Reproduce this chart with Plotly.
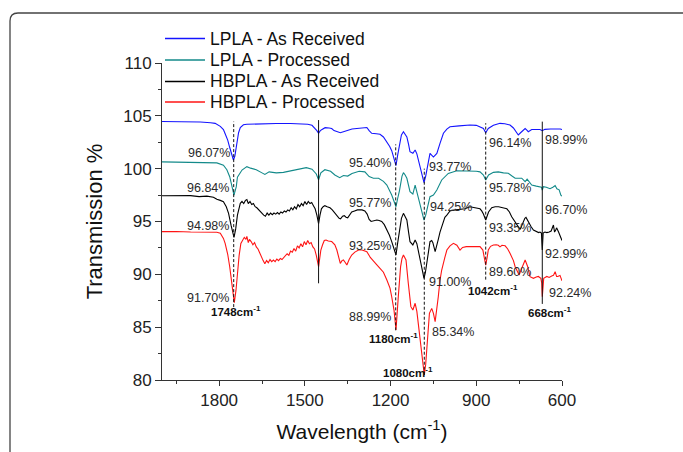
import plotly.graph_objects as go

# ---------------- data ----------------
blue_wn = [2000, 1900, 1866, 1830, 1814, 1796, 1785, 1779, 1770, 1763, 1755, 1750, 1745, 1738, 1732, 1726, 1715, 1703,
           1650, 1600, 1550, 1516, 1490, 1475, 1465, 1458, 1452, 1446, 1440, 1429, 1415, 1406, 1398, 1390, 1376, 1365,
           1353, 1335, 1318, 1295, 1283, 1275, 1266, 1250, 1237, 1225, 1213, 1203, 1196, 1190, 1181, 1175, 1169, 1162,
           1155, 1149, 1143, 1137, 1132, 1122, 1114, 1108, 1103, 1092, 1083, 1077, 1071, 1062, 1050, 1038, 1027, 1015,
           1003, 992, 960, 922, 900, 885, 875, 867, 858, 840, 817, 800, 782, 770, 760, 753, 745, 735, 729, 723, 718,
           706, 690, 677, 669, 660, 640, 620, 606, 600]
blue_T = [104.46, 104.44, 104.42, 104.35, 104.29, 104.0, 103.7, 103.3, 102.7, 102.0, 101.2, 100.82, 101.2, 102.3, 103.4,
          103.9, 104.15, 104.2, 104.25, 104.27, 104.27, 104.25, 104.2, 104.1, 103.85, 103.6, 103.35, 103.6, 103.7,
          103.88, 103.85, 103.8, 103.6, 103.5, 103.4, 103.5, 103.6, 103.75, 103.8, 103.85, 103.9, 103.6, 103.35, 103.3,
          103.25, 103.0, 102.55, 102.1, 101.7, 101.1, 100.3, 101.3, 102.4, 103.2, 103.5, 103.3, 103.0, 102.3, 101.6,
          101.45, 101.77, 101.4, 100.8, 99.7, 98.67, 99.3, 100.19, 101.45, 101.1, 101.45, 102.4, 103.35, 103.75,
          103.97, 104.05, 104.13, 104.1, 103.95, 103.8, 103.4, 103.8, 104.1, 104.29, 104.25, 104.13, 103.85, 103.45,
          103.19, 103.4, 103.7, 103.8, 103.65, 103.5, 103.7, 103.72, 103.7, 103.6, 103.72, 103.75, 103.78, 103.75, 103.7]

teal_wn = [2000, 1900, 1808, 1785, 1773, 1763, 1755, 1748, 1740, 1736, 1720, 1703, 1690, 1670, 1650, 1640, 1625, 1600,
           1575, 1550, 1520, 1495, 1475, 1460, 1452, 1444, 1430, 1410, 1395, 1378, 1365, 1350, 1335, 1310, 1290, 1275,
           1260, 1242, 1225, 1213, 1196, 1188, 1181, 1175, 1169, 1160, 1155, 1149, 1143, 1132, 1122, 1114, 1103, 1092,
           1083, 1077, 1071, 1062, 1050, 1038, 1021, 998, 968, 933, 900, 887, 875, 867, 857, 840, 823, 805, 788, 775,
           764, 741, 735, 729, 722, 715, 706, 690, 677, 672, 669, 665, 655, 642, 632, 624, 618, 610, 604, 600]
teal_T = [100.64, 100.62, 100.55, 100.33, 99.9, 99.24, 98.3, 97.5, 98.3, 99.2, 99.87, 100.19, 100.05, 99.9, 99.6, 99.45,
          99.7, 99.6, 99.65, 99.8, 99.95, 100.1, 99.95, 99.5, 98.95, 99.6, 99.9, 99.75, 99.4, 99.15, 99.35, 99.3, 99.55,
          99.75, 99.7, 99.25, 99.1, 99.1, 98.8, 98.45, 97.5, 96.9, 96.4, 97.2, 97.9, 99.3, 99.62, 99.4, 99.09, 97.82,
          97.6, 98.45, 97.35, 96.2, 95.14, 95.6, 96.4, 97.35, 97.5, 97.98, 98.93, 99.55, 99.8, 99.8, 99.75, 99.7, 99.4,
          98.93, 99.4, 99.65, 99.7, 99.6, 99.56, 99.3, 99.1, 99.1, 98.9, 98.77, 99.0, 98.8, 98.45, 98.35, 98.3, 98.25,
          97.98, 98.3, 98.25, 98.1, 98.25, 98.4, 98.1, 98.0, 97.5, 97.4]

black_wn = [2000, 1950, 1900, 1870, 1843, 1820, 1808, 1796, 1785, 1775, 1767, 1758, 1748, 1742, 1736, 1726, 1720, 1714,
            1708, 1703, 1698, 1692, 1686, 1680, 1674, 1668, 1662, 1656, 1650, 1644, 1638, 1632, 1626, 1620, 1614, 1608,
            1602, 1596, 1590, 1584, 1578, 1572, 1566, 1560, 1554, 1548, 1542, 1536, 1530, 1524, 1518, 1512, 1506, 1500,
            1494, 1488, 1482, 1476, 1470, 1464, 1458, 1452, 1447, 1442, 1436, 1430, 1422, 1412, 1404, 1396, 1388, 1380,
            1375, 1368, 1362, 1356, 1350, 1344, 1336, 1326, 1316, 1300, 1290, 1282, 1275, 1268, 1258, 1248, 1240, 1231,
            1222, 1213, 1204, 1196, 1188, 1181, 1175, 1169, 1162, 1155, 1149, 1143, 1137, 1132, 1122, 1114, 1108, 1103,
            1097, 1091, 1083, 1078, 1073, 1067, 1062, 1056, 1052, 1044, 1038, 1033, 1027, 1021, 1010, 1003, 992, 986,
            970, 957, 940, 922, 910, 898, 887, 881, 875, 867, 862, 857, 846, 834, 822, 810, 800, 793, 784, 776, 766,
            758, 752, 747, 741, 735, 730, 726, 721, 717, 708, 700, 690, 682, 677, 672, 669, 666, 660, 653, 645, 638,
            630, 626, 622, 619, 612, 607, 601, 600]
black_T = [97.44, 97.42, 97.45, 97.35, 97.4, 97.3, 97.1, 97.0, 96.88, 96.4, 95.77, 94.6, 93.5, 94.3, 95.6, 96.72, 96.9,
           96.7, 97.0, 97.07, 96.7, 96.9, 96.6, 96.7, 96.4, 96.3, 96.1, 95.9, 95.8, 95.6, 95.5, 95.8, 95.6, 95.8, 95.65,
           95.8, 95.7, 95.85, 95.7, 95.9, 95.8, 96.0, 95.9, 96.1, 96.0, 96.3, 96.1, 96.4, 96.2, 96.6, 96.4, 96.7, 96.5,
           96.9, 96.6, 96.9, 96.7, 96.8, 96.5, 96.2, 95.6, 94.8, 95.6, 96.2, 96.4, 96.5, 96.4, 96.3, 96.1, 95.8, 95.5,
           95.3, 95.25, 95.5, 95.55, 95.4, 95.35, 95.6, 95.9, 96.0, 96.1, 96.1, 96.0, 95.7, 95.2, 95.0, 95.05, 95.14,
           95.1, 95.0, 94.7, 94.2, 93.7, 93.09, 92.4, 91.83, 93.0, 94.2, 95.3, 95.77, 95.5, 95.14, 94.0, 93.09, 92.78,
           93.25, 92.9, 92.3, 91.5, 90.72, 89.62, 90.2, 91.04, 92.3, 93.09, 93.2, 93.0, 92.14, 92.7, 93.3, 94.0, 94.5,
           95.4, 95.6, 96.0, 96.05, 96.1, 96.09, 96.2, 96.4, 96.35, 96.3, 96.2, 96.0, 95.7, 95.14, 95.5, 95.9, 96.3,
           96.4, 96.4, 96.35, 96.25, 96.2, 95.9, 95.45, 95.0, 94.67, 94.4, 94.25, 94.6, 95.0, 95.3, 95.39, 95.1, 94.9,
           94.5, 94.2, 94.05, 93.95, 94.0, 93.9, 92.3, 93.9, 94.0, 93.95, 94.0, 94.1, 94.67, 94.0, 94.2, 94.4, 94.0,
           93.72, 93.25, 93.2]

red_wn = [2000, 1950, 1900, 1850, 1808, 1796, 1785, 1779, 1770, 1763, 1755, 1747, 1741, 1736, 1730, 1724, 1718, 1712,
          1706, 1703, 1698, 1694, 1688, 1682, 1676, 1670, 1664, 1658, 1652, 1646, 1640, 1634, 1628, 1622, 1616, 1610,
          1604, 1598, 1592, 1586, 1580, 1574, 1568, 1562, 1556, 1550, 1544, 1538, 1532, 1526, 1520, 1514, 1508, 1502,
          1496, 1490, 1484, 1478, 1472, 1466, 1460, 1455, 1452, 1448, 1444, 1438, 1432, 1426, 1418, 1406, 1395, 1388,
          1380, 1376, 1370, 1365, 1358, 1353, 1345, 1336, 1325, 1312, 1300, 1283, 1271, 1260, 1248, 1237, 1225, 1213,
          1202, 1196, 1188, 1181, 1177, 1173, 1165, 1160, 1155, 1146, 1138, 1129, 1122, 1114, 1108, 1103, 1097, 1091,
          1082, 1077, 1073, 1064, 1056, 1050, 1044, 1038, 1033, 1027, 1021, 1010, 1003, 992, 980, 968, 957, 948, 935,
          910, 887, 877, 872, 867, 862, 858, 850, 840, 830, 823, 817, 810, 799, 790, 782, 770, 764, 756, 750, 745, 741,
          735, 729, 724, 720, 712, 700, 690, 683, 674, 671, 669, 667, 664, 653, 645, 636, 630, 624, 619, 615, 607, 601,
          600]
red_T = [94.04, 94.06, 94.0, 94.02, 93.98, 93.88, 93.4, 92.93, 91.9, 90.72, 88.9, 87.32, 88.5, 90.2, 91.8, 92.93, 93.2,
         93.5, 93.3, 93.6, 93.0, 93.3, 93.1, 92.8, 93.0, 92.6, 92.4, 92.0, 91.7, 91.3, 91.0, 91.3, 91.1, 91.4, 91.2,
         91.35, 91.2, 91.45, 91.3, 91.5, 91.4, 91.6, 91.7, 91.95, 91.8, 92.2, 92.1, 92.45, 92.2, 92.7, 92.5, 92.9, 92.6,
         93.1, 92.8, 93.2, 92.9, 93.0, 92.6, 92.4, 91.8, 91.0, 90.72, 91.5, 92.3, 92.8, 93.2, 93.25, 93.15, 93.1, 92.8,
         92.3, 91.5, 91.04, 91.3, 91.36, 91.1, 90.88, 91.4, 91.83, 92.1, 92.3, 92.3, 92.15, 91.6, 91.3, 90.9, 90.57,
         90.2, 89.46, 88.7, 87.88, 86.62, 84.73, 86.0, 87.88, 90.7, 91.5, 91.83, 91.36, 89.15, 86.94, 86.62, 87.26, 86.5,
         85.36, 84.0, 82.52, 80.47, 81.5, 82.84, 86.31, 86.78, 86.3, 85.52, 86.6, 87.88, 89.46, 90.41, 91.6, 92.3, 92.7,
         92.93, 92.75, 92.3, 92.55, 92.62, 92.62, 92.62, 92.3, 91.6, 90.88, 91.6, 92.3, 92.65, 92.78, 92.8, 92.75, 92.6,
         92.75, 92.7, 92.4, 91.99, 91.3, 90.72, 90.2, 89.94, 90.3, 90.6, 91.1, 91.36, 91.0, 90.72, 89.78, 89.62, 89.75,
         89.8, 89.62, 89.2, 87.88, 89.3, 89.62, 89.8, 89.7, 89.85, 89.9, 90.25, 89.8, 89.8, 89.9, 89.46, 89.4]

series_names = ["LPLA - As Received", "LPLA - Processed", "HBPLA - As Received", "HBPLA - Processed"]

# peak marker lines
peak_wn = [1749, 1452, 1182, 1082, 867, 669]
peak_top = [104.45, 104.6, 102.3, 100.0, 104.3, 104.45]
peak_bottom = [86.9, 89.15, 84.7, 80.5, 89.5, 87.2]
peak_dash = ["3px,2px", "solid", "3px,2px", "3px,2px", "3px,2px", "solid"]

# percent labels
pct_text = ["96.07%", "96.84%", "94.98%", "91.70%", "95.40%", "95.77%", "93.25%", "88.99%",
            "93.77%", "94.25%", "91.00%", "85.34%", "96.14%", "95.78%", "93.35%", "89.60%",
            "98.99%", "96.70%", "92.99%", "92.24%"]
pct_wn = [1756, 1759, 1759, 1759, 1190, 1190, 1190, 1190,
          1073, 1068, 1073, 1062, 864, 864, 864, 864,
          665, 665, 665, 654]
pct_T = [101.45, 98.14, 94.57, 87.79, 100.56, 96.72, 92.71, 85.99,
         100.19, 96.33, 89.3, 84.57, 102.4, 98.14, 94.36, 90.25,
         102.71, 96.09, 91.92, 88.26]
pct_side = ["right"] * 8 + ["left"] * 12

# band labels
band_text = ["1748", "1180", "1080", "1042", "668"]
band_wn = [1741, 1191, 1139, 843, 644]
band_T = [86.55, 83.94, 80.75, 88.52, 86.47]

# ---------------- figure ----------------
FONT = "Liberation Sans, Arial, sans-serif"
colors = ["#1414ff", "#138a8a", "#000000", "#ff1414"]
xs = [blue_wn, teal_wn, black_wn, red_wn]
ys = [blue_T, teal_T, black_T, red_T]

L, T_, W, H = 162, 63, 400, 317
def px(xp):
    return (xp - L) / W
def py(yp):
    return (T_ + H - yp) / H

fig = go.Figure()
for name, x, y, c in zip(series_names, xs, ys, colors):
    fig.add_trace(go.Scatter(x=x, y=y, mode="lines", name=name, showlegend=False,
                             line=dict(color=c, width=1.1)))

# legend drawn as line samples + labels (to match the original spacing)
legend_rows = [38.5, 60, 81.5, 102]
for name, c, row in zip(series_names, colors, legend_rows):
    fig.add_shape(type="line", xref="paper", yref="paper",
                  x0=px(165), x1=px(205), y0=py(row), y1=py(row),
                  line=dict(color=c, width=1.3))
    fig.add_annotation(x=px(208), y=py(row), xref="paper", yref="paper", text=name,
                       showarrow=False, xanchor="left", yanchor="middle",
                       font=dict(family=FONT, size=17.5, color="#111111"))

for wn, top, bot, d in zip(peak_wn, peak_top, peak_bottom, peak_dash):
    fig.add_shape(type="line", xref="x", yref="y", x0=wn, x1=wn, y0=bot, y1=top,
                  line=dict(color="#111111", width=1, dash=d), layer="above")

for t, wn, T, side in zip(pct_text, pct_wn, pct_T, pct_side):
    fig.add_annotation(x=wn, y=T, xref="x", yref="y", text=t, showarrow=False,
                       xanchor=side, yanchor="middle",
                       font=dict(family=FONT, size=12.5, color="#2a2a2a"))

for t, wn, T in zip(band_text, band_wn, band_T):
    fig.add_annotation(x=wn, y=T, xref="x", yref="y",
                       text="<b>" + t + "cm<sup>-1</sup></b>", showarrow=False,
                       xanchor="center", yanchor="middle",
                       font=dict(family=FONT, size=11.5, color="#111111"))

# rounded frame (top-left corner of a panel border)
r = 8
path = (f"M {px(10)},{py(470)} L {px(10)},{py(13 + r)} "
        f"Q {px(10)},{py(13)} {px(10 + r)},{py(13)} L {px(700)},{py(13)}")
fig.add_shape(type="path", xref="paper", yref="paper", path=path,
              line=dict(color="#444444", width=1.3), layer="above")

fig.update_layout(
    width=683, height=452,
    margin=dict(l=L, r=683 - L - W, t=T_, b=452 - T_ - H),
    paper_bgcolor="white", plot_bgcolor="white",
    font=dict(family=FONT, color="#111111"),
    showlegend=False,
    xaxis=dict(range=[2000, 600], tick0=600, dtick=300,
               showline=True, linecolor="#333333", linewidth=1,
               ticks="outside", ticklen=5, tickcolor="#333333",
               minor=dict(dtick=150, ticklen=3, ticks="outside", tickcolor="#333333"),
               showgrid=False, zeroline=False,
               tickfont=dict(family=FONT, size=17, color="#222222"),
               title=dict(text="Wavelength (cm<sup>-1</sup>)", standoff=14,
                          font=dict(family=FONT, size=21, color="#111111"))),
    yaxis=dict(range=[80, 110], tick0=80, dtick=5,
               showline=True, linecolor="#333333", linewidth=1,
               ticks="outside", ticklen=6, tickcolor="#333333",
               minor=dict(dtick=2.5, ticklen=3, ticks="outside", tickcolor="#333333"),
               showgrid=False, zeroline=False,
               tickfont=dict(family=FONT, size=17, color="#222222"),
               title=dict(text="Transmission %", standoff=14,
                          font=dict(family=FONT, size=22, color="#111111"))),
)

fig.write_html("out.html", config={"displayModeBar": False})
